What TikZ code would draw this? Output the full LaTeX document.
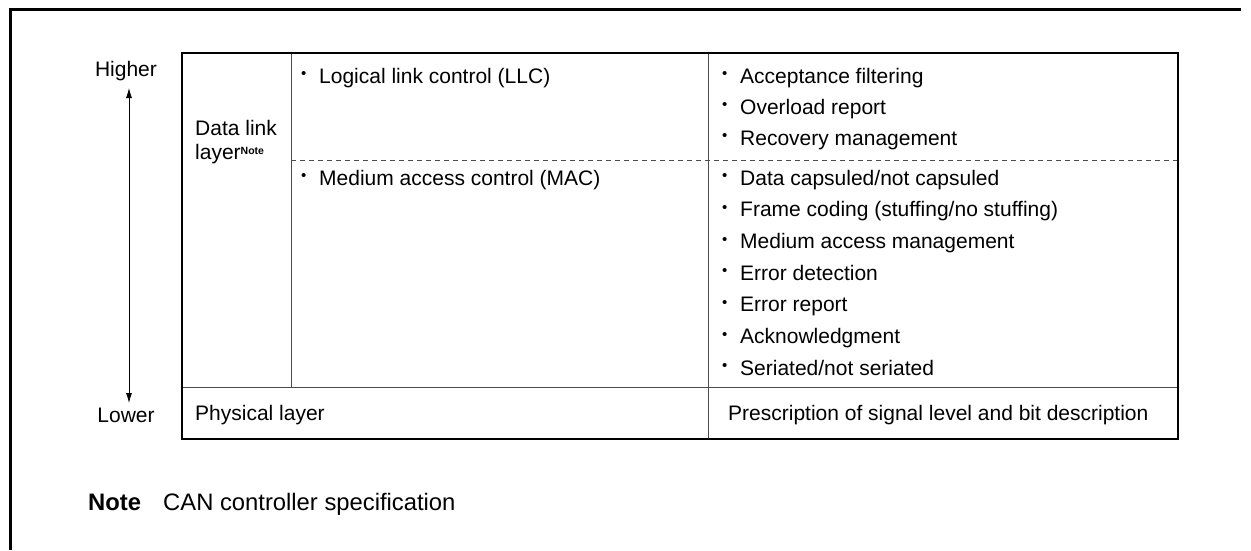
\documentclass[tikz,border=0pt]{standalone}
\usepackage{fontspec}
\setmainfont{Liberation Sans}
\usetikzlibrary{arrows.meta, positioning}

% bullet mark in front of each item
\newcommand{\itm}{\makebox[18pt][l]{\raisebox{4.2pt}{\fontsize{15}{15}\selectfont\textbullet}}}
\newcommand{\notemark}{\raisebox{4.5pt}{\fontsize{10.5}{11}\selectfont\bfseries Note}}

\begin{document}
\begin{tikzpicture}[x=1pt, y=-1pt, font=\fontsize{21}{25}\selectfont]
    % Define styles
    \tikzstyle{cell} = [anchor=base west, inner sep=0pt]
    \tikzstyle{label} = [anchor=base, inner sep=0pt]
    \tikzstyle{frame} = [line width=3pt]
    \tikzstyle{outer} = [line width=2.2pt]
    \tikzstyle{inner} = [line width=0.9pt, black!70]
    \tikzstyle{arrow} = [line width=0.8pt, {Latex[length=10pt,width=6pt]}-{Latex[length=10pt,width=6pt]}]

    \useasboundingbox (0,0) rectangle (1251,550);

    % Page corner
    \draw [frame] (10,550) -- (10,9) -- (1241,9);

    % Table lines
    \draw [inner] (291,53) -- (291,387);
    \draw [inner] (708,53) -- (708,439);
    \draw [inner] (182,387) -- (1178,387);
    \draw [inner, dash pattern=on 5pt off 4pt] (291,160) -- (1178,160);
    \draw [outer] (182,53) rectangle (1178,439);

    % Nodes
    \node (higher) [label] at (126,76) {Higher};
    \node (lower) [label] at (126,422) {Lower};
    \node (dll1) [cell] at (195,135) {Data link};
    \node (dll2) [cell] at (195,159) {layer\notemark};

    \node (llc) [cell] at (301,83) {\itm Logical link control (LLC)};
    \node (mac) [cell] at (301,185) {\itm Medium access control (MAC)};

    \node (accept) [cell] at (722,83) {\itm Acceptance filtering};
    \node (overload) [cell] at ([yshift=-31pt]accept.base west) {\itm Overload report};
    \node (recovery) [cell] at ([yshift=-31pt]overload.base west) {\itm Recovery management};

    \node (capsule) [cell] at (722,185) {\itm Data capsuled/not capsuled};
    \node (framecode) [cell] at ([yshift=-31.67pt]capsule.base west) {\itm Frame coding (stuffing/no stuffing)};
    \node (access) [cell] at ([yshift=-31.67pt]framecode.base west) {\itm Medium access management};
    \node (errdetect) [cell] at ([yshift=-31.67pt]access.base west) {\itm Error detection};
    \node (errreport) [cell] at ([yshift=-31.67pt]errdetect.base west) {\itm Error report};
    \node (ack) [cell] at ([yshift=-31.67pt]errreport.base west) {\itm Acknowledgment};
    \node (seriate) [cell] at ([yshift=-31.67pt]ack.base west) {\itm Seriated/not seriated};

    \node (phys) [cell] at (195,420) {Physical layer};
    \node (signal) [cell] at (728,420) {Prescription of signal level and bit description};

    % Footnote
    \node (note) [cell, font=\fontsize{23.8}{28}\selectfont\bfseries] at (88,510) {Note};
    \node (notetext) [cell, font=\fontsize{23.8}{28}\selectfont] at (163,510) {CAN controller specification};

    % Arrows
    \draw [arrow] ([xshift=3pt, yshift=-12pt]higher.base) -- ([xshift=3pt, yshift=19pt]lower.base);
\end{tikzpicture}
\end{document}
